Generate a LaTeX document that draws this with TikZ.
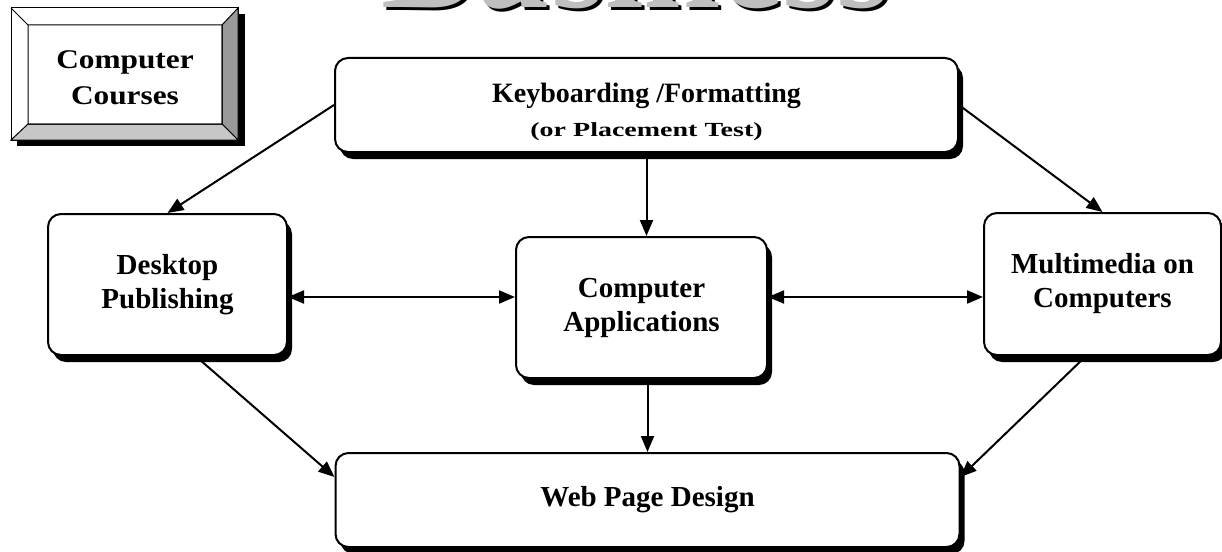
\documentclass[tikz,border=0pt]{standalone}
\usepackage{fontspec}
\setmainfont{Liberation Serif}
\newfontfamily\ccfont{Liberation Serif}[FakeStretch=1.16]
\newfontfamily\testfont{Liberation Serif}[FakeStretch=1.4]
\usetikzlibrary{arrows.meta,shadows}

\begin{document}
\begin{tikzpicture}[x=1pt,y=-1pt,
  course/.style={draw,line width=2pt,rounded corners=13pt,fill=white,align=center,
    font=\bfseries\fontsize{29}{34}\selectfont,
    drop shadow={shadow xshift=5pt,shadow yshift=-7pt,fill=black,opacity=1}},
  link/.style={line width=2pt,-{Triangle[length=16pt,width=13pt]}},
  twoway/.style={line width=2pt,{Triangle[length=16pt,width=13pt]}-{Triangle[length=16pt,width=13pt]}},
  title/.style={font=\bfseries\fontsize{139}{139}\selectfont,anchor=base,inner sep=0pt}]
  \useasboundingbox (0,0) rectangle (1222,551);
  \clip (0,0) rectangle (1222,551);

  \node[title,text=black] (titleshade) at (639,11) {Business};
  \node[title,text=black!25] (title) at (636,8) {Business};

  \fill (17,14) rectangle (245,146);
  \draw[line width=1pt,fill=white] (11,8) rectangle (238,140);
  \draw[line width=1pt,fill=black!40] (238,8) -- (238,140) -- (222,124) -- (222,25) -- cycle;
  \draw[line width=1pt,fill=black!22] (11,140) -- (238,140) -- (222,124) -- (28,124) -- cycle;
  \draw[line width=1pt] (11,8) -- (28,25) rectangle (222,124);
  \node[align=center,inner sep=0pt,font=\ccfont\bfseries\fontsize{27}{36}\selectfont] (cc) at (125,78) {Computer\\Courses};

  \node[course,minimum width=623pt,minimum height=94pt] (kb) at (646.5,105)
    {\fontsize{28}{31}\selectfont\rule{0pt}{34pt}Keyboarding /Formatting\\{\testfont\fontsize{20}{31}\selectfont (or Placement Test)}};
  \node[course,minimum width=239pt,minimum height=141pt] (dtp) at (167.5,284.5) {Desktop\\Publishing};
  \node[course,minimum width=251pt,minimum height=141pt] (app) at (641.5,307.5) {Computer\\Applications};
  \node[course,minimum width=237pt,minimum height=142pt] (mm) at (1102.5,284) {Multimedia on\\Computers};
  \node[course,minimum width=624pt,minimum height=94pt] (web) at (647.5,500) {Web Page Design};

  \draw[link] (kb.west) -- (dtp.north);
  \draw[link] (kb.east) -- (mm.north);
  \draw[link] (kb.south) -- (kb.south |- app.north);
  \draw[twoway] ([yshift=-12.5pt]dtp.east) -- ([yshift=10.5pt]app.west);
  \draw[twoway] ([yshift=10.5pt]app.east) -- ([yshift=-13pt]mm.west);
  \draw[link] (web.north |- app.south) -- (web.north);
  \draw[link] ([xshift=28pt]dtp.south) -- ([yshift=23pt]web.west);
  \draw[link] ([xshift=-16.5pt]mm.south) -- ([yshift=23pt]web.east);
\end{tikzpicture}
\end{document}
